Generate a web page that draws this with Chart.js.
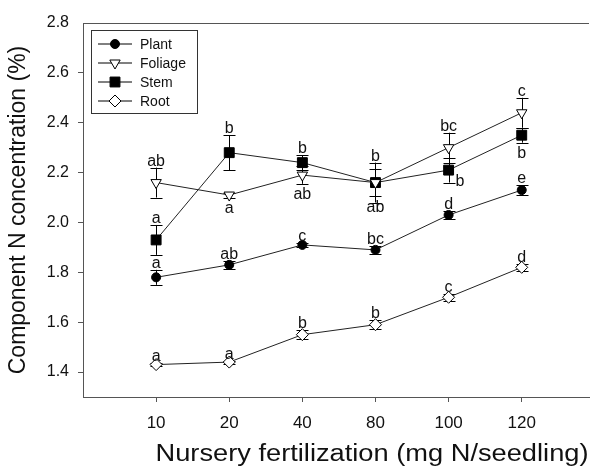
<!DOCTYPE html>
<html>
<head>
<meta charset="utf-8">
<script src="https://cdn.jsdelivr.net/npm/chart.js@4.4.1/dist/chart.umd.min.js"></script>
<style>
  html, body { margin: 0; padding: 0; background: #fff; overflow: hidden; }
</style>
</head>
<body>
<canvas id="chart" width="597" height="470"></canvas>
<script>
// nursery fertilization levels (mg N/seedling)
const categories = ['10', '20', '40', '80', '100', '120'];
const yTicks = [1.4, 1.6, 1.8, 2.0, 2.2, 2.4, 2.6, 2.8];

// mean N concentration (%) per component
const plant   = [1.78, 1.83, 1.91, 1.89, 2.03, 2.13];
const foliage = [2.16, 2.11, 2.19, 2.16, 2.30, 2.44];
const stem    = [1.93, 2.28, 2.24, 2.16, 2.21, 2.35];
const root    = [1.43, 1.44, 1.55, 1.59, 1.70, 1.82];

// standard errors
const plantErr   = [0.03, 0.015, 0.008, 0.015, 0.015, 0.02];
const foliageErr = [0.06, 0.01, 0.035, 0.055, 0.06, 0.06];
const stemErr    = [0.06, 0.07, 0.03, 0.08, 0.05, 0.03];
const rootErr    = [0.006, 0.006, 0.018, 0.018, 0.015, 0.015];

// significance letters
const plantLetters   = ['a', 'ab', 'c', 'bc', 'd', 'e'];
const foliageLetters = ['ab', 'a', 'ab', 'ab', 'bc', 'c'];
const stemLetters    = ['a', 'b', 'b', 'b', 'b', 'b'];
const rootLetters    = ['a', 'a', 'b', 'b', 'c', 'd'];

// where each letter sits relative to its error bar
const plantWhere   = ['up', 'up', 'up', 'up', 'up', 'up'];
const foliageWhere = ['up', 'down', 'down', 'down', 'up', 'up'];
const stemWhere    = ['up', 'up', 'up', 'up', 'right', 'down'];
const rootWhere    = ['up', 'up', 'up', 'up', 'up', 'up'];

const axisColor = '#555';
const font = 'Liberation Sans, Arial, sans-serif';

const series = [
    { label: 'Plant', data: plant, err: plantErr, letters: plantLetters, where: plantWhere,
      pointStyle: 'circle', radius: 4.5, rotation: 0, fill: '#000' },
    { label: 'Foliage', data: foliage, err: foliageErr, letters: foliageLetters, where: foliageWhere,
      pointStyle: 'triangle', radius: 6, rotation: 180, fill: '#fff' },
    { label: 'Stem', data: stem, err: stemErr, letters: stemLetters, where: stemWhere,
      pointStyle: 'rect', radius: 7, rotation: 0, fill: '#000' },
    { label: 'Root', data: root, err: rootErr, letters: rootLetters, where: rootWhere,
      pointStyle: 'rectRot', radius: 6, rotation: 0, fill: '#fff' }
];

const datasets = series.map(s => ({
    label: s.label,
    data: s.data.map((v, i) => ({ x: i + 1, y: v })),
    borderColor: '#222',
    borderWidth: 1,
    pointStyle: s.pointStyle,
    pointRadius: s.radius,
    pointRotation: s.rotation,
    pointBackgroundColor: s.fill,
    pointBorderColor: '#000',
    pointBorderWidth: 1,
    tension: 0,
    fill: false
}));

// error bars, drawn under the lines and markers
const errorBars = {
    id: 'errorBars',
    beforeDatasetsDraw(chart) {
        const ctx = chart.ctx;
        const xs = chart.scales.x, ys = chart.scales.y;
        ctx.save();
        ctx.strokeStyle = '#000';
        ctx.lineWidth = 1;
        series.forEach(s => {
            s.data.forEach((v, i) => {
                const x = Math.round(xs.getPixelForValue(i + 1)) + 0.5;
                const top = ys.getPixelForValue(v + s.err[i]);
                const bot = ys.getPixelForValue(v - s.err[i]);
                ctx.beginPath();
                ctx.moveTo(x, top); ctx.lineTo(x, bot);
                ctx.moveTo(x - 6, Math.round(top) + 0.5); ctx.lineTo(x + 6, Math.round(top) + 0.5);
                ctx.moveTo(x - 6, Math.round(bot) + 0.5); ctx.lineTo(x + 6, Math.round(bot) + 0.5);
                ctx.stroke();
            });
        });
        ctx.restore();
    }
};

// significance letters, frame top line, legend, axis titles
const extras = {
    id: 'extras',
    afterDatasetsDraw(chart) {
        const ctx = chart.ctx;
        const xs = chart.scales.x, ys = chart.scales.y;
        ctx.save();
        ctx.fillStyle = '#111';
        ctx.font = '16px ' + font;
        series.forEach(s => {
            s.data.forEach((v, i) => {
                const x = xs.getPixelForValue(i + 1);
                const top = ys.getPixelForValue(v + s.err[i]);
                const bot = ys.getPixelForValue(v - s.err[i]);
                const w = s.where[i];
                if (w === 'up') {
                    ctx.textAlign = 'center'; ctx.textBaseline = 'alphabetic';
                    ctx.fillText(s.letters[i], x, top - 2);
                } else if (w === 'down') {
                    ctx.textAlign = 'center'; ctx.textBaseline = 'top';
                    ctx.fillText(s.letters[i], x, bot + 3);
                } else {
                    ctx.textAlign = 'left'; ctx.textBaseline = 'alphabetic';
                    ctx.fillText(s.letters[i], x + 7, bot + 3);
                }
            });
        });

        const a = chart.chartArea;
        // top frame line
        ctx.strokeStyle = axisColor;
        ctx.lineWidth = 1;
        ctx.beginPath();
        ctx.moveTo(a.left, a.top + 0.5);
        ctx.lineTo(a.right, a.top + 0.5);
        ctx.stroke();

        // legend
        const lx = a.left + 8, ly = a.top + 7;
        ctx.strokeStyle = '#333';
        ctx.strokeRect(lx + 0.5, ly + 0.5, 106, 83);
        ctx.font = '14px ' + font;
        ctx.textAlign = 'left';
        ctx.textBaseline = 'middle';
        series.forEach((s, k) => {
            const y = ly + 14 + k * 19;
            ctx.strokeStyle = '#000';
            ctx.beginPath();
            ctx.moveTo(lx + 7, y); ctx.lineTo(lx + 41, y);
            ctx.stroke();
            ctx.fillStyle = s.fill;
            Chart.helpers.drawPoint(ctx, {
                pointStyle: s.pointStyle, radius: s.radius, rotation: s.rotation, borderWidth: 1
            }, lx + 24, y);
            ctx.fillStyle = '#111';
            ctx.fillText(s.label, lx + 49, y + 1);
        });

        // axis titles
        ctx.fillStyle = '#111';
        ctx.font = '23px ' + font;
        ctx.textAlign = 'center';
        ctx.textBaseline = 'middle';
        const xTitle = 'Nursery fertilization (mg N/seedling)';
        const stretch = 433 / ctx.measureText(xTitle).width;
        ctx.save();
        ctx.translate(372, 455);
        ctx.scale(stretch, 1);
        ctx.fillText(xTitle, 0, 0);
        ctx.restore();
        ctx.translate(19, (a.top + a.bottom) / 2);
        ctx.rotate(-Math.PI / 2);
        ctx.fillText('Component N concentration (%)', 0, 0);
        ctx.restore();
    }
};

new Chart(document.getElementById('chart'), {
    type: 'line',
    data: { datasets },
    options: {
        responsive: false,
        animation: false,
        layout: { padding: { top: 23, right: 0, left: 0, bottom: 0 } },
        plugins: { legend: { display: false }, tooltip: { enabled: false } },
        scales: {
            x: {
                type: 'linear',
                min: 0,
                max: 6.92,
                afterFit: s => { s.height = 73; },
                afterBuildTicks: s => { s.ticks = categories.map((c, i) => ({ value: i + 1 })); },
                ticks: {
                    color: '#111',
                    font: { family: font, size: 17 },
                    padding: 11,
                    maxRotation: 0,
                    callback: v => categories[Math.round(v) - 1]
                },
                grid: { display: true, drawOnChartArea: false, drawTicks: true, tickLength: 5, color: axisColor },
                border: { display: true, color: axisColor, width: 1 }
            },
            y: {
                min: 1.3,
                max: 2.8,
                afterFit: s => { s.width = 83; },
                afterBuildTicks: s => { s.ticks = yTicks.map(v => ({ value: v })); },
                ticks: {
                    color: '#111',
                    font: { family: font, size: 16 },
                    padding: 9,
                    callback: v => v.toFixed(1)
                },
                grid: {
                    display: true, drawOnChartArea: false, drawTicks: true, tickLength: 5,
                    color: axisColor,
                    tickColor: c => (c.tick && c.tick.value === 2.8) ? 'rgba(0,0,0,0)' : axisColor
                },
                border: { display: true, color: axisColor, width: 1 }
            }
        }
    },
    plugins: [errorBars, extras]
});
</script>
</body>
</html>
